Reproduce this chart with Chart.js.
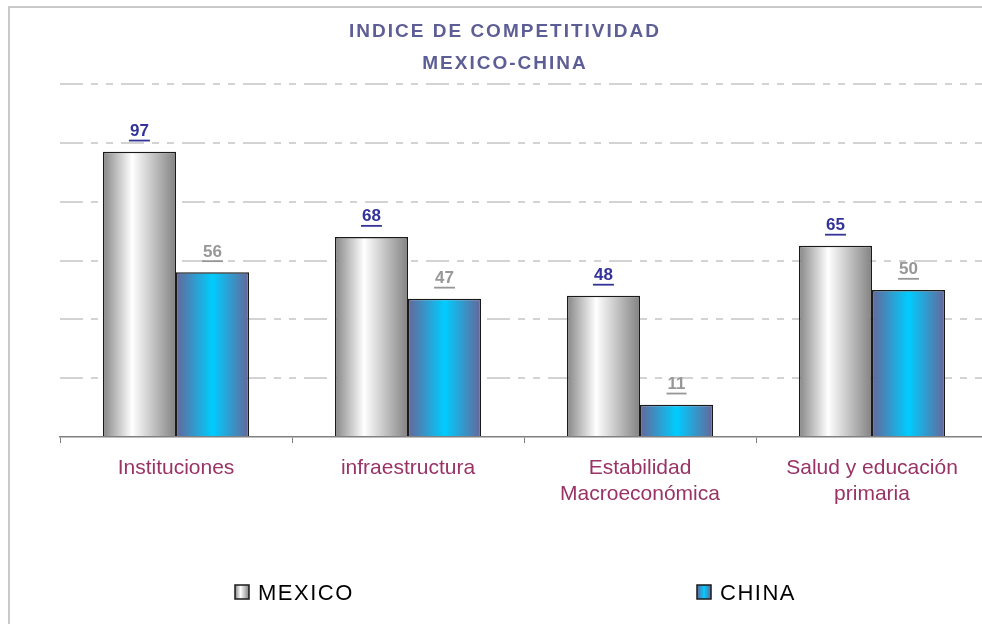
<!DOCTYPE html>
<html lang="es">
<head>
<meta charset="utf-8">
<title>Indice de competitividad Mexico-China</title>
<script src="https://cdn.jsdelivr.net/npm/chart.js@4.4.1/dist/chart.umd.min.js"></script>
<style>
    html, body { margin: 0; padding: 0; background: #fff; overflow: hidden; }
    .frame {
        position: absolute; left: 8px; top: 6px; width: 1200px; height: 800px;
        border-left: 2px solid #c9c9c9; border-top: 2px solid #c9c9c9;
    }
    #chart { position: absolute; left: 0; top: 0; }
</style>
</head>
<body>
<div class="frame"></div>
<canvas id="chart" width="1000" height="624"></canvas>
<script>
// Data
const categories = ['Instituciones', 'infraestructura', ['Estabilidad', 'Macroeconómica'], ['Salud y educación', 'primaria']];
const seriesNames = ['MEXICO', 'CHINA'];
const mexicoValues = [97, 68, 48, 65];
const chinaValues = [56, 47, 11, 50];
const titleLines = ['INDICE DE COMPETITIVIDAD', 'MEXICO-CHINA'];
const axisMin = 0, axisMax = 120, axisStep = 20;

// Styles
const fontFamily = '"Liberation Sans", Arial, sans-serif';
const greyStops = [[0, '#868686'], [0.4, '#ffffff'], [1, '#828282']];
const cyanStops = [[0, '#666699'], [0.5, '#00ccff'], [1, '#666699']];
const shades = [greyStops, cyanStops];
const labelColors = ['#333399', '#979797'];

function hGradient(ctx, left, right, stops) {
    const g = ctx.createLinearGradient(left, 0, right, 0);
    stops.forEach(([o, c]) => g.addColorStop(o, c));
    return g;
}

// Cylinder-like shading per bar, built from each bar's own box
const barShading = {
    id: 'barShading',
    beforeDatasetsDraw(chart) {
        chart.data.datasets.forEach((ds, i) => {
            chart.getDatasetMeta(i).data.forEach(bar => {
                const half = bar.width / 2;
                bar.options = Object.assign({}, bar.options, {
                    backgroundColor: hGradient(chart.ctx, bar.x - half, bar.x + half, shades[i])
                });
            });
        });
    }
};

// Underlined value above each bar
const valueLabels = {
    id: 'valueLabels',
    afterDatasetsDraw(chart) {
        const ctx = chart.ctx;
        ctx.save();
        ctx.font = 'bold 17px ' + fontFamily;
        ctx.textAlign = 'center';
        ctx.textBaseline = 'alphabetic';
        chart.data.datasets.forEach((ds, i) => {
            ctx.fillStyle = labelColors[i];
            chart.getDatasetMeta(i).data.forEach((bar, j) => {
                const text = String(ds.data[j]);
                const w = ctx.measureText(text).width;
                const y = bar.y - 15.5;
                ctx.fillText(text, bar.x, y);
                ctx.fillRect(bar.x - w / 2 - 1, y + 3.5, w + 2, 1.8);
            });
        });
        ctx.restore();
    }
};

// Title and bottom legend
const frameText = {
    id: 'frameText',
    afterDraw(chart) {
        const ctx = chart.ctx;
        ctx.save();
        ctx.fillStyle = '#5e5e96';
        ctx.font = 'bold 19px ' + fontFamily;
        ctx.letterSpacing = '2px';
        ctx.textAlign = 'center';
        ctx.textBaseline = 'alphabetic';
        ctx.fillText(titleLines[0], 505, 37);
        ctx.fillText(titleLines[1], 505, 68.5);

        const legendX = [235, 697];
        ctx.font = '22px ' + fontFamily;
        ctx.letterSpacing = '1.5px';
        ctx.textAlign = 'left';
        seriesNames.forEach((name, i) => {
            const x = legendX[i];
            ctx.fillStyle = hGradient(ctx, x, x + 14, shades[i]);
            ctx.fillRect(x, 585, 14, 14);
            ctx.lineWidth = 1.5;
            ctx.strokeStyle = '#1a1a1a';
            ctx.strokeRect(x, 585, 14, 14);
            ctx.fillStyle = '#000';
            ctx.fillText(name, x + 23, 600);
        });
        ctx.restore();
    }
};

new Chart(document.getElementById('chart'), {
    type: 'bar',
    data: {
        labels: categories,
        datasets: [
            { label: seriesNames[0], data: mexicoValues },
            { label: seriesNames[1], data: chinaValues }
        ].map(ds => Object.assign(ds, {
            backgroundColor: '#cccccc',
            borderColor: '#1a1a1a',
            borderWidth: 1.5,
            categoryPercentage: 0.63,
            barPercentage: 1
        }))
    },
    options: {
        responsive: false,
        animation: false,
        events: [],
        layout: { padding: { top: 84, left: 60, right: 12, bottom: 0 } },
        plugins: {
            legend: { display: false },
            title: { display: false },
            tooltip: { enabled: false }
        },
        scales: {
            x: {
                grid: {
                    display: true,
                    drawOnChartArea: false,
                    drawTicks: true,
                    tickLength: 6,
                    color: '#7f7f7f',
                    lineWidth: 1,
                    offset: true
                },
                border: { display: true, color: '#808080', width: 1.5 },
                ticks: {
                    color: '#993366',
                    font: { family: fontFamily, size: 21, lineHeight: 1.25 },
                    padding: 12,
                    maxRotation: 0,
                    autoSkip: false
                },
                afterFit(scale) { scale.height = 187; }
            },
            y: {
                min: axisMin,
                max: axisMax,
                ticks: { stepSize: axisStep, display: false },
                grid: {
                    drawTicks: false,
                    lineWidth: 2,
                    color: c => c.tick.value === 0 ? 'rgba(0,0,0,0)' : '#d3d3d3'
                },
                border: { display: false, dash: [23, 8, 7, 8, 7, 8] },
                afterFit(scale) { scale.width = 0; }
            }
        }
    },
    plugins: [barShading, valueLabels, frameText]
});
</script>
</body>
</html>
